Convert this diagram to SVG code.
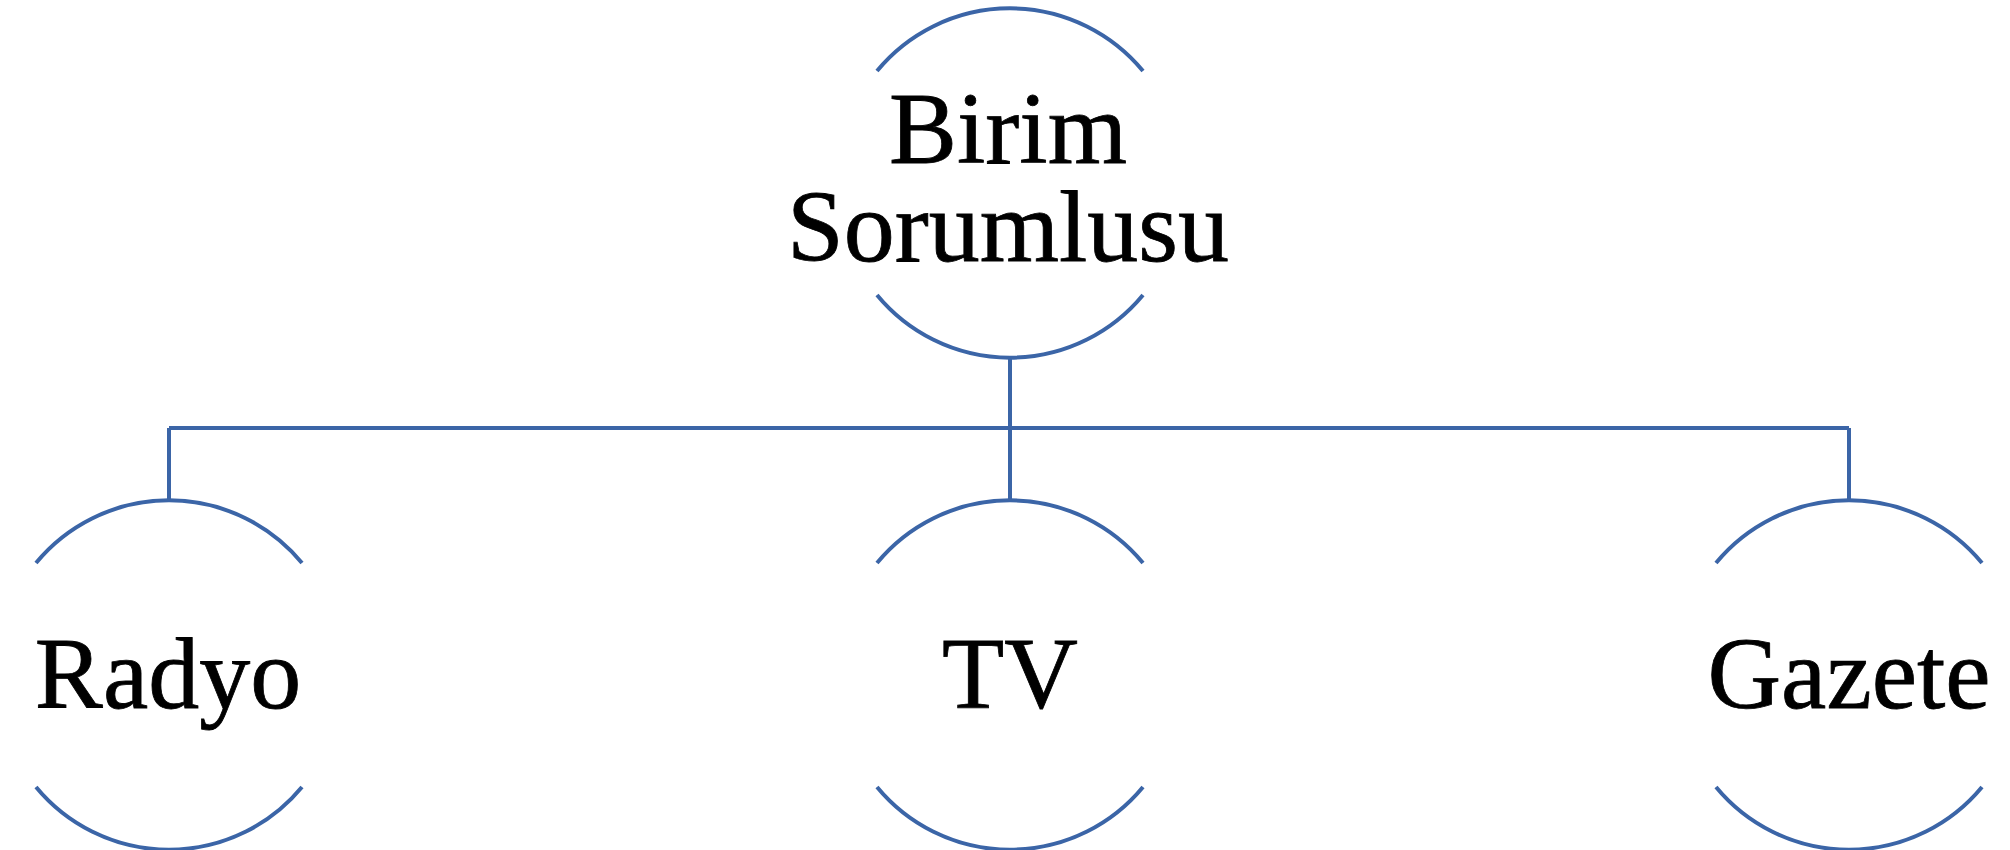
<svg xmlns="http://www.w3.org/2000/svg" width="2010" height="850" viewBox="0 0 2010 850">
<style>
.arc{fill:none;stroke:#3B65A7;stroke-width:4;stroke-linecap:butt}
.conn{fill:none;stroke:#3B65A7;stroke-width:4}
.lbl{font-family:"Liberation Serif","Times New Roman",serif;font-size:102px;fill:#000;stroke:#000;stroke-width:0.8;text-anchor:middle}
</style>
<rect width="2010" height="850" fill="#fff"/>
<g id="connectors">
<path class="conn" d="M1010 356 V428 M169 428 H1849 M169 428 V502 M1010 428 V502 M1849 428 V502"/>
</g>
<g id="node-birim">
<path class="arc" d="M877 71 A172.5 172.5 0 0 1 1143 71"/>
<path class="arc" d="M877 295 A172.5 172.5 0 0 0 1143 295"/>
<text class="lbl"><tspan x="1008" y="163">Birim</tspan><tspan x="1008" y="261">Sorumlusu</tspan></text>
</g>
<g id="node-radyo">
<path class="arc" d="M36 563 A172.5 172.5 0 0 1 302 563"/>
<path class="arc" d="M36 787 A172.5 172.5 0 0 0 302 787"/>
<text class="lbl" x="168" y="708">Radyo</text>
</g>
<g id="node-tv">
<path class="arc" d="M877 563 A172.5 172.5 0 0 1 1143 563"/>
<path class="arc" d="M877 787 A172.5 172.5 0 0 0 1143 787"/>
<text class="lbl" x="1010" y="708">TV</text>
</g>
<g id="node-gazete">
<path class="arc" d="M1716 563 A172.5 172.5 0 0 1 1982 563"/>
<path class="arc" d="M1716 787 A172.5 172.5 0 0 0 1982 787"/>
<text class="lbl" x="1849" y="708">Gazete</text>
</g>
</svg>
